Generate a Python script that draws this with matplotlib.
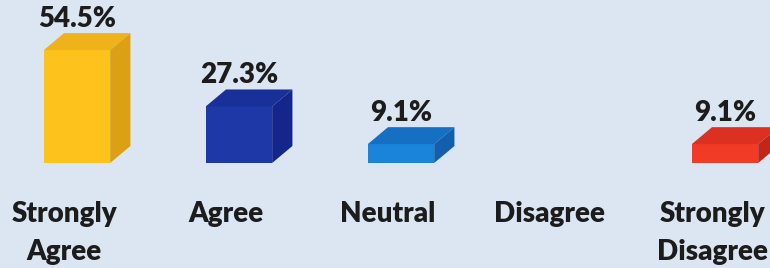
import matplotlib
matplotlib.use("Agg")
import matplotlib.pyplot as plt
from matplotlib.patches import Polygon

# Survey responses (percent of respondents)
categories = ["Strongly\nAgree", "Agree", "Neutral", "Disagree", "Strongly\nDisagree"]
percentages = [54.5, 27.3, 9.1, 0.0, 9.1]
value_labels = ["54.5%", "27.3%", "9.1%", "", "9.1%"]

# front / top / side shades for each bar
front_colors = ["#fdc31c", "#1f38a8", "#1a84da", "#d9d9d9", "#f23b27"]
top_colors = ["#eeb21a", "#1a3099", "#1570c4", "#cccccc", "#dc3020"]
side_colors = ["#dca015", "#14268a", "#125fae", "#bbbbbb", "#c22618"]

BG = "#dce6f2"
TEXT = "#1c1c1c"

plt.rcParams['font.family'] = ['Lato', 'DejaVu Sans']

fig = plt.figure(figsize=(7.7, 2.68), dpi=100)
fig.patch.set_facecolor(BG)
ax = fig.add_axes([0, 0, 1, 1])
ax.set_facecolor(BG)

width = 0.41
dx = 0.125   # depth of the bars, x data units
dy = 8.2     # depth of the bars, y data units
x = list(range(len(categories)))

bars = ax.bar(x, percentages, width=width, color=front_colors, zorder=3)

for i, (xi, val) in enumerate(zip(x, percentages)):
    if val <= 0:
        continue
    left = xi - width / 2
    right = xi + width / 2
    top = Polygon([(left, val), (right, val), (right + dx, val + dy), (left + dx, val + dy)],
                  closed=True, facecolor=top_colors[i], edgecolor="none", zorder=3)
    side = Polygon([(right, 0), (right + dx, dy), (right + dx, val + dy), (right, val)],
                   closed=True, facecolor=side_colors[i], edgecolor="none", zorder=3)
    ax.add_patch(top)
    ax.add_patch(side)
    ax.text(xi, val + dy + 0.6, value_labels[i], ha="center", va="bottom",
            fontsize=20, fontweight="heavy", color=TEXT)

# category labels below the bars
for xi, cat in zip(x, categories):
    ax.text(xi - 0.08, -18.3, cat, ha="center", va="top", fontsize=20,
            fontweight="heavy", color=TEXT, linespacing=1.6)

ax.set_xlim(-0.475, 4.278)
ax.set_ylim(-50.7, 78.7)
ax.axis("off")

fig.savefig("out.png", dpi=100, facecolor=BG)
